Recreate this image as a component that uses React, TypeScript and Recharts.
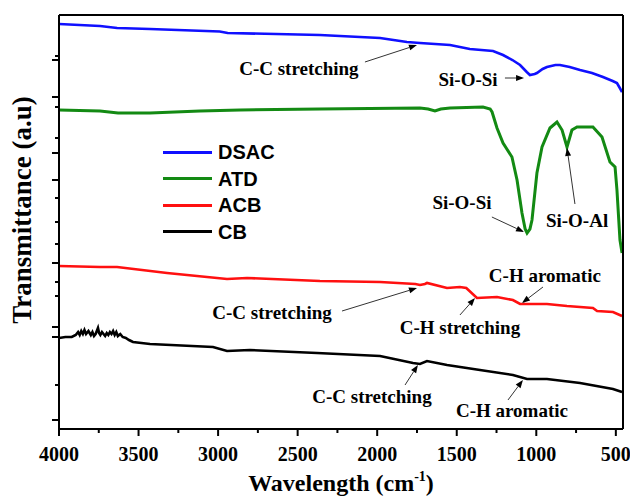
import React from 'react';
import { LineChart, Line, XAxis, YAxis, Legend, ReferenceLine, ReferenceDot } from 'recharts';

// Wavenumber (cm-1) and transmittance (arbitrary, stacked) per sample
const DSAC_WN = [4000, 3742, 3635, 3428, 2990, 2940, 2360, 1982, 1813, 1731, 1542, 1418, 1272, 1209, 1150, 1102, 1060, 1040, 1010, 996, 960, 933, 880, 851, 790, 725, 650, 581, 520, 493, 475, 461];
const DSAC_T = [405, 403, 401, 400, 397.5, 396, 394, 391, 387, 386, 384, 380, 378, 374, 369, 364, 357, 354, 355, 356, 360, 362, 364, 364, 362, 359, 356, 352, 348, 346, 341, 337];

const ATD_WN = [4000, 3742, 3629, 3428, 3114, 2862, 2360, 1731, 1680, 1637, 1600, 1542, 1335, 1290, 1278, 1247, 1209, 1153, 1121, 1090, 1070, 1058, 1040, 1027, 996, 964, 914, 870, 838, 807, 776, 744, 644, 587, 537, 505, 493, 474, 461];
const ATD_T = [319, 318, 316, 316, 318, 319, 320, 321, 320, 318, 320, 321, 322, 320, 317, 301, 286, 272, 249, 216, 200, 196, 200, 209, 256, 282, 301, 307, 299, 282, 299, 302, 302, 292, 267, 262, 239, 189, 176];

const ACB_WN = [4000, 3742, 3635, 3321, 2944, 2818, 2360, 1982, 1760, 1731, 1700, 1687, 1561, 1480, 1440, 1373, 1247, 1147, 1102, 933, 807, 644, 618, 518, 461];
const ACB_T = [163, 162, 162, 156, 150, 151, 148, 147, 145, 144, 145, 146, 141, 142, 141, 131, 132, 129, 125, 125, 123, 121, 118, 117, 113];

const CB_WN = [4000, 3960, 3920, 3895, 3880, 3870, 3860, 3850, 3840, 3830, 3815, 3800, 3790, 3780, 3770, 3760, 3755, 3748, 3740, 3730, 3720, 3710, 3700, 3690, 3680, 3670, 3660, 3650, 3640, 3630, 3615, 3600, 3580, 3560, 3535, 3428, 3032, 2944, 2800, 2378, 1982, 1775, 1731, 1687, 1561, 1354, 1147, 1058, 933, 725, 518, 461];
const CB_T = [91, 92, 92, 94, 97, 94, 98, 95, 99, 95, 98, 94, 97, 93, 95, 99, 101, 96, 94, 97, 95, 93, 96, 94, 97, 95, 98, 94, 97, 93, 95, 92, 91, 89, 87, 85, 82, 78, 79, 76, 73, 66, 65, 68, 64, 59, 54, 50, 50, 46, 40, 37];

const SERIES_NAMES = ['DSAC', 'ATD', 'ACB', 'CB'];
const SERIES_COLORS = ['#1010ff', '#138a13', '#ff1010', '#000000'];
const SERIES_WIDTHS = [2.6, 3, 2.6, 2.6];

const X_MAJOR = [4000, 3500, 3000, 2500, 2000, 1500, 1000, 500];
const X_MINOR = [3750, 3250, 2750, 2250, 1750, 1250, 750];
const Y_MAJOR = [369, 332, 276, 249, 166, 102, 92, 9];
const Y_MINOR = [373, 322, 291, 231, 207, 185, 147, 133, 44];

// Annotations: label text/position and arrow start/end in data units
const ANN_TEXT = ['C-C stretching', 'Si-O-Si', 'Si-O-Si', 'Si-O-Al', 'C-C stretching', 'C-H stretching', 'C-H aromatic', 'C-C stretching', 'C-H aromatic'];
const ANN_TX = [2492, 1429, 1467, 744, 2661, 1480, 946, 2033, 1153];
const ANN_TY = [361, 350, 227, 209, 117, 102, 154, 33, 19];
const ANN_X1 = [2077, 1197, 1279, 757, 2221, 1480, 958, 1825, 1178];
const ANN_Y1 = [367, 351, 212, 225, 118, 114, 142, 44, 29];
const ANN_X2 = [1750, 1077, 1077, 807, 1750, 1385, 1090, 1744, 1084];
const ANN_Y2 = [384, 351, 197, 281, 141, 131, 126, 64, 49];

const SERIES_DATA = [
  [DSAC_WN, DSAC_T],
  [ATD_WN, ATD_T],
  [ACB_WN, ACB_T],
  [CB_WN, CB_T],
].map(([wn, t]) => wn.map((w, i) => ({ wn: w, t: t[i] })));

const SERIF_STYLE = { fontFamily: 'Liberation Serif, Times New Roman, serif', fontWeight: 700 } as const;
const SANS = 'Liberation Sans, Arial, sans-serif';

const XTick = (props: any) => {
  const { x, y, payload } = props;
  const major = X_MAJOR.includes(payload.value);
  return (
    <g>
      <line x1={x} x2={x} y1={y} y2={y + (major ? 7 : 4)} stroke="#000" strokeWidth={2} />
      {major && (
        <text x={x} y={y + 32} textAnchor="middle" style={{ ...SERIF_STYLE, fontSize: 20 }} fill="#000">
          {payload.value}
        </text>
      )}
    </g>
  );
};

const YTick = (props: any) => {
  const { x, y, payload } = props;
  const major = Y_MAJOR.includes(payload.value);
  return <line x1={x - (major ? 7 : 4)} x2={x} y1={y} y2={y} stroke="#000" strokeWidth={2} />;
};

const Arrow = (p: any) => {
  const { x1, y1, x2, y2 } = p;
  const dx = x2 - x1;
  const dy = y2 - y1;
  const L = Math.hypot(dx, dy) || 1;
  const ux = dx / L;
  const uy = dy / L;
  const hl = 8;
  const hw = 3;
  const bx = x2 - ux * hl;
  const by = y2 - uy * hl;
  return (
    <g>
      <line x1={x1} y1={y1} x2={bx} y2={by} stroke="#333" strokeWidth={1} />
      <polygon points={`${x2},${y2} ${bx - uy * hw},${by + ux * hw} ${bx + uy * hw},${by - ux * hw}`} fill="#000" />
    </g>
  );
};

const renderLegend = () => (
  <div style={{ display: 'flex', flexDirection: 'column' }}>
    {SERIES_NAMES.map((name, i) => (
      <div key={name} style={{ display: 'flex', alignItems: 'center', height: 26.5 }}>
        <div style={{ width: 49, height: 3, background: SERIES_COLORS[i] }} />
        <span style={{ marginLeft: 6, fontFamily: SANS, fontWeight: 'bold', fontSize: 20, color: '#000', lineHeight: '20px' }}>{name}</span>
      </div>
    ))}
  </div>
);

export default function App() {
  return (
    <div style={{ position: 'absolute', left: 0, top: 0, background: '#fff' }}>
      <LineChart width={630} height={498} margin={{ top: 14, right: 6, bottom: 68, left: 58 }}>
        <XAxis
          dataKey="wn"
          type="number"
          domain={[455, 4000]}
          reversed
          allowDataOverflow
          ticks={[...X_MAJOR, ...X_MINOR]}
          interval={0}
          tickSize={0}
          tickMargin={0}
          tickLine={false}
          tick={<XTick />}
          height={1}
          axisLine={{ stroke: '#000', strokeWidth: 2 }}
          label={{
            content: (lp: any) => {
              const vb = lp.viewBox || { x: 59, y: 429, width: 564 };
              return (
                <text x={vb.x + vb.width / 2} y={vb.y + 62} textAnchor="middle" style={{ ...SERIF_STYLE, fontSize: 24 }} fill="#000">
                  <tspan>Wavelength (cm</tspan>
                  <tspan dy={-10} style={{ fontSize: 14 }}>-1</tspan>
                  <tspan dy={10}>)</tspan>
                </text>
              );
            },
          }}
        />
        <XAxis xAxisId="top" orientation="top" type="number" domain={[455, 4000]} reversed height={1} tick={false} tickLine={false} axisLine={{ stroke: '#000', strokeWidth: 2 }} />
        <YAxis
          type="number"
          domain={[0, 414]}
          allowDataOverflow
          ticks={[...Y_MAJOR, ...Y_MINOR]}
          interval={0}
          tickSize={0}
          tickMargin={0}
          tickLine={false}
          tick={<YTick />}
          width={1}
          axisLine={{ stroke: '#000', strokeWidth: 2 }}
          label={{
            content: (lp: any) => {
              const vb = lp.viewBox || { x: 58, y: 15, height: 414 };
              const cx = 22;
              const cy = vb.y + 195;
              return (
                <text x={cx} y={cy} transform={`rotate(-90 ${cx} ${cy})`} textAnchor="middle" dominantBaseline="central" style={{ ...SERIF_STYLE, fontSize: 27 }} fill="#000">
                  Transmittance (a.u)
                </text>
              );
            },
          }}
        />
        <YAxis yAxisId="right" orientation="right" type="number" domain={[0, 414]} width={1} tick={false} tickLine={false} axisLine={{ stroke: '#000', strokeWidth: 2 }} />
        <Legend
          layout="vertical"
          align="center"
          verticalAlign="middle"
          content={renderLegend}
          wrapperStyle={{ position: 'absolute', left: 163, top: 139, width: 'auto', height: 'auto' }}
        />
        {SERIES_NAMES.map((name, i) => (
          <Line
            key={name}
            name={name}
            data={SERIES_DATA[i]}
            dataKey="t"
            type="linear"
            stroke={SERIES_COLORS[i]}
            strokeWidth={SERIES_WIDTHS[i]}
            dot={false}
            activeDot={false}
            isAnimationActive={false}
          />
        ))}
        {ANN_TEXT.map((txt, i) => (
          <ReferenceLine
            key={`a${i}`}
            segment={[{ x: ANN_X1[i], y: ANN_Y1[i] }, { x: ANN_X2[i], y: ANN_Y2[i] }]}
            shape={(p: any) => <Arrow {...p} />}
            ifOverflow="visible"
          />
        ))}
        {ANN_TEXT.map((txt, i) => (
          <ReferenceDot
            key={`t${i}`}
            x={ANN_TX[i]}
            y={ANN_TY[i]}
            r={0}
            ifOverflow="visible"
            shape={(p: any) => (
              <text x={p.cx} y={p.cy} textAnchor="middle" dominantBaseline="central" style={{ ...SERIF_STYLE, fontSize: 19 }} fill="#000">
                {txt}
              </text>
            )}
          />
        ))}
      </LineChart>
    </div>
  );
}
